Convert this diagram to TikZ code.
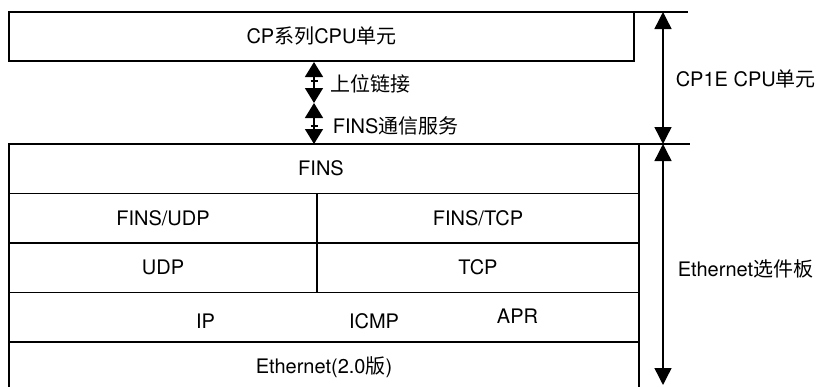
\documentclass[tikz,border=0pt]{standalone}
\usepackage{fontspec}
\setmainfont{TeX Gyre Heros}
\newfontfamily\cjk{Noto Sans CJK SC}
\usetikzlibrary{arrows.meta}
\begin{document}
\begin{tikzpicture}[x=1pt,y=-1pt,line width=1.6pt,
  txt/.style={font=\fontsize{20}{24}\selectfont, inner sep=0pt, anchor=base},
  side/.style={txt, anchor=base west},
  bigarr/.style={{Triangle[width=17pt,length=17pt]}-{Triangle[width=17pt,length=17pt]}, line width=1.4pt},
  smallarr/.style={{Triangle[width=18pt,length=15pt]}-{Triangle[width=18pt,length=15pt]}, line width=1.4pt},
  tick/.style={line width=1.2pt}]
\useasboundingbox (0,0) rectangle (820,386);
\fill[white] (0,0) rectangle (820,386);
% top box
\draw (9,12) rectangle (634,61);
\draw (634,12) -- (688,12);
% lower box
\draw (9,392) -- (9,144) -- (690,144);
\draw (639,144) -- (639,392);
\draw (9,193.5) -- (639,193.5);
\draw (9,243) -- (639,243);
\draw (9,292.5) -- (639,292.5);
\draw (9,342) -- (639,342);
\draw (317,193.5) -- (317,292.5);
% coordinates
\coordinate (r1) at (663,12);
\coordinate (r2) at (663,144);
\coordinate (r3) at (663,385);
\coordinate (m1) at (314,62);
\coordinate (m2) at (314,103);
\coordinate (m3) at (314,144);
\draw[bigarr] (r1) -- (r2);
\draw[bigarr] (r2) -- (r3);
\draw[smallarr] (m1) -- (m2);
\draw[smallarr] (m2) -- (m3);
\draw[tick] (310.5,81) -- (317.5,81);
\draw[tick] (310.5,126) -- (317.5,126);
% texts
\node[txt] (cpu) at (321.5,43) {CP{\cjk 系列}CPU{\cjk 单元}};
\node[txt] (fins) at (321,175.5) {FINS};
\node[txt] (finsudp) at (163,225) {FINS/UDP};
\node[txt] (finstcp) at (478,225) {FINS/TCP};
\node[txt] (udp) at (163,274.5) {UDP};
\node[txt] (tcp) at (478,274.5) {TCP};
\node[txt] (ip) at (205.5,328) {IP};
\node[txt] (icmp) at (374,328) {ICMP};
\node[txt] (apr) at (517.5,323) {APR};
\node[txt] (eth) at (324,373) {Ethernet(2.0{\cjk 版})};
\node[side] (hl) at (330,91) {{\cjk 上位链接}};
\node[side] (fs) at (332,133) {FINS{\cjk 通信服务}};
\node[side] (cp1e) at (675,86) {CP1E CPU{\cjk 单元}};
\node[side] (ethopt) at (677,276) {Ethernet{\cjk 选件板}};
\end{tikzpicture}
\end{document}
